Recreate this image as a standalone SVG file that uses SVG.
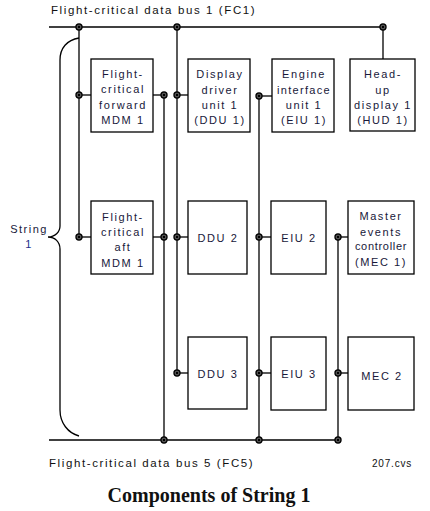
<svg xmlns="http://www.w3.org/2000/svg" width="430" height="511" viewBox="0 0 430 511">
<style>
.bg{fill:#fff}
.box{fill:#fff;stroke:#000;stroke-width:1.3}
.ln{fill:none;stroke:#000;stroke-width:1.3}
.t{font-family:"Liberation Sans",Arial,sans-serif;font-size:11px;letter-spacing:1.6px;fill:#18183a;text-anchor:middle}
.bus{font-family:"Liberation Sans",Arial,sans-serif;font-size:11.5px;letter-spacing:1.6px;fill:#111}
.ref{font-family:"Liberation Sans",Arial,sans-serif;font-size:10px;letter-spacing:0.8px;fill:#111}
.title{font-family:"Liberation Serif","Times New Roman",serif;font-size:20px;font-weight:bold;fill:#111;text-anchor:middle}
</style>
<defs>
<g id="dot"><circle r="3.7" fill="#000"/><circle r="1.9" fill="none" stroke="#999" stroke-width="0.7"/></g>
</defs>
<rect class="bg" x="0" y="0" width="430" height="511"/>

<g id="connectors">
<line class="ln" x1="49" y1="27" x2="383" y2="27"/>
<line class="ln" x1="49" y1="440" x2="338" y2="440"/>
<line class="ln" x1="79" y1="27" x2="79" y2="237"/>
<line class="ln" x1="164" y1="95" x2="164" y2="440"/>
<line class="ln" x1="177" y1="27" x2="177" y2="373"/>
<line class="ln" x1="259" y1="96" x2="259" y2="440"/>
<line class="ln" x1="338" y1="237" x2="338" y2="440"/>
<line class="ln" x1="383" y1="27" x2="383" y2="59"/>
<line class="ln" x1="79" y1="95" x2="91" y2="95"/>
<line class="ln" x1="153" y1="95" x2="164" y2="95"/>
<line class="ln" x1="177" y1="95" x2="188" y2="95"/>
<line class="ln" x1="259" y1="96" x2="272" y2="96"/>
<line class="ln" x1="79" y1="237" x2="91" y2="237"/>
<line class="ln" x1="153" y1="237" x2="164" y2="237"/>
<line class="ln" x1="177" y1="237" x2="188" y2="237"/>
<line class="ln" x1="259" y1="237" x2="271" y2="237"/>
<line class="ln" x1="338" y1="237" x2="348" y2="237"/>
<line class="ln" x1="177" y1="373" x2="188" y2="373"/>
<line class="ln" x1="259" y1="373" x2="271" y2="373"/>
<line class="ln" x1="338" y1="373" x2="348" y2="373"/>
<use href="#dot" x="79" y="27"/>
<use href="#dot" x="177" y="27"/>
<use href="#dot" x="383" y="27"/>
<use href="#dot" x="79" y="95"/>
<use href="#dot" x="164" y="95"/>
<use href="#dot" x="177" y="95"/>
<use href="#dot" x="259" y="96"/>
<use href="#dot" x="79" y="237"/>
<use href="#dot" x="164" y="237"/>
<use href="#dot" x="177" y="237"/>
<use href="#dot" x="259" y="237"/>
<use href="#dot" x="338" y="237"/>
<use href="#dot" x="177" y="373"/>
<use href="#dot" x="259" y="373"/>
<use href="#dot" x="338" y="373"/>
<use href="#dot" x="164" y="440"/>
<use href="#dot" x="259" y="440"/>
<use href="#dot" x="338" y="440"/>
</g>

<g id="brace">
<path class="ln" d="M79,38 C67,40 60,48 60,60 L60,226 C60,232 55,237 48,237 C55,237 60,242 60,249 L60,410 C60,423 68,433 79,436"/>
</g>

<g id="bus1-label"><text class="bus" x="51" y="14">Flight-critical data bus 1 (FC1)</text></g>
<g id="bus5-label"><text class="bus" x="49" y="467">Flight-critical data bus 5 (FC5)</text></g>
<g id="string-label">
<text class="t" x="29" y="233" style="letter-spacing:1.5px">String</text>
<text class="t" x="29" y="248" style="fill:#22308a">1</text>
</g>

<g id="mdm-fwd">
<rect class="box" x="91" y="59" width="62" height="73"/>
<text class="t" x="123" y="78">Flight-</text>
<text class="t" x="123" y="93">critical</text>
<text class="t" x="123" y="109">forward</text>
<text class="t" x="123" y="124">MDM 1</text>
</g>
<g id="ddu1">
<rect class="box" x="188" y="59" width="62" height="73"/>
<text class="t" x="220" y="78">Display</text>
<text class="t" x="220" y="94">driver</text>
<text class="t" x="220" y="109">unit 1</text>
<text class="t" x="220" y="124">(DDU 1)</text>
</g>
<g id="eiu1">
<rect class="box" x="272" y="59" width="62" height="73"/>
<text class="t" x="304" y="78">Engine</text>
<text class="t" x="304" y="94" style="letter-spacing:1.3px">interface</text>
<text class="t" x="304" y="109">unit 1</text>
<text class="t" x="304" y="124">(EIU 1)</text>
</g>
<g id="hud1">
<rect class="box" x="350" y="59" width="65" height="72"/>
<text class="t" x="383" y="78">Head-</text>
<text class="t" x="383" y="94">up</text>
<text class="t" x="383" y="109">display 1</text>
<text class="t" x="383" y="124">(HUD 1)</text>
</g>
<g id="mdm-aft">
<rect class="box" x="91" y="201" width="62" height="73"/>
<text class="t" x="123" y="221">Flight-</text>
<text class="t" x="123" y="236">critical</text>
<text class="t" x="123" y="251">aft</text>
<text class="t" x="123" y="267">MDM 1</text>
</g>
<g id="ddu2">
<rect class="box" x="188" y="201" width="59" height="73"/>
<text class="t" x="218" y="242">DDU 2</text>
</g>
<g id="eiu2">
<rect class="box" x="271" y="201" width="55" height="73"/>
<text class="t" x="299" y="242">EIU 2</text>
</g>
<g id="mec1">
<rect class="box" x="348" y="201" width="66" height="73"/>
<text class="t" x="381" y="220">Master</text>
<text class="t" x="381" y="236">events</text>
<text class="t" x="381" y="250" style="letter-spacing:0.7px">controller</text>
<text class="t" x="381" y="266">(MEC 1)</text>
</g>
<g id="ddu3">
<rect class="box" x="188" y="337" width="59" height="72"/>
<text class="t" x="218" y="378">DDU 3</text>
</g>
<g id="eiu3">
<rect class="box" x="271" y="337" width="55" height="73"/>
<text class="t" x="299" y="378">EIU 3</text>
</g>
<g id="mec2">
<rect class="box" x="348" y="337" width="66" height="73"/>
<text class="t" x="382" y="380">MEC 2</text>
</g>

<g id="ref"><text class="ref" x="372" y="467">207.cvs</text></g>
<g id="title"><text class="title" x="209" y="502">Components of String 1</text></g>
</svg>
